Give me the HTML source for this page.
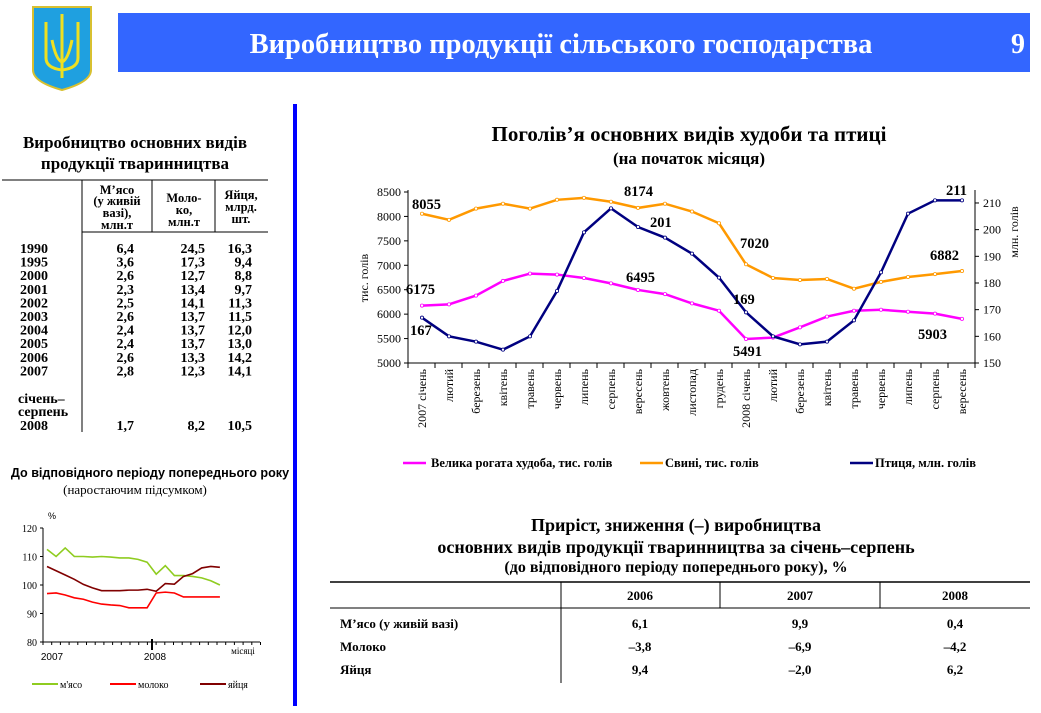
<!DOCTYPE html>
<html><head><meta charset="utf-8"><style>
body{margin:0;width:1041px;height:708px;background:#fff;overflow:hidden;font-family:"Liberation Serif",serif}
svg text{font-family:"Liberation Serif",serif}
</style></head><body>
<svg id="s" width="1041" height="708" viewBox="0 0 1041 708" xmlns="http://www.w3.org/2000/svg">
<path d="M33,7 L91,7 L91,70 Q91,82 62,90 Q33,82 33,70 Z" fill="#1fa0e0" stroke="#d8c030" stroke-width="2"/>
<path d="M62,14 L62,78 M46,22 L46,58 Q46,68 62,70 Q78,68 78,58 L78,22 M52,40 Q56,60 62,62 Q68,60 72,40" stroke="#f0e020" stroke-width="3" fill="none"/>
<rect x="118" y="13" width="912" height="59" fill="#3366ff"/>
<text x="561" y="53" font-size="28.5" font-weight="bold" fill="#fff" text-anchor="middle">Виробництво продукції сільського господарства</text>
<text x="1018" y="53" font-size="28" font-weight="bold" fill="#fff" text-anchor="middle">9</text>
<rect x="293" y="104" width="4" height="602" fill="#0000ff"/>

<text x="135" y="148" font-size="17" font-weight="bold" text-anchor="middle">Виробництво основних видів</text>
<text x="135" y="169" font-size="17" font-weight="bold" text-anchor="middle">продукції тваринництва</text>
<line x1="2" y1="180" x2="268" y2="180" stroke="#000"/>
<line x1="82" y1="232" x2="268" y2="232" stroke="#000"/>
<line x1="82" y1="180" x2="82" y2="432" stroke="#000"/>
<line x1="152" y1="180" x2="152" y2="232" stroke="#000"/>
<line x1="215" y1="180" x2="215" y2="232" stroke="#000"/>
<g font-size="12.5" font-weight="bold" text-anchor="middle">
<text x="117" y="194">М’ясо</text><text x="117" y="205">(у живій</text><text x="117" y="217">вазі),</text><text x="117" y="229">млн.т</text>
<text x="184" y="202">Моло-</text><text x="184" y="214">ко,</text><text x="184" y="226">млн.т</text>
<text x="241" y="199">Яйця,</text><text x="241" y="211">млрд.</text><text x="241" y="223">шт.</text>
</g>
<g font-size="14" font-weight="bold" id="lt"></g>

<text x="150" y="477" font-size="12.6" font-weight="bold" text-anchor="middle" style="font-family:'Liberation Sans',sans-serif">До відповідного періоду попереднього року</text>
<text x="135" y="494" font-size="13" text-anchor="middle">(наростаючим підсумком)</text>
<text x="48" y="519" font-size="9" style="font-family:'Liberation Sans',sans-serif">%</text>
<g font-size="10" text-anchor="end" style="font-family:'Liberation Sans'" id="sy"></g>
<line x1="43" y1="528" x2="43" y2="642" stroke="#000"/>
<line x1="43" y1="642" x2="260" y2="642" stroke="#000"/>
<line x1="152" y1="639" x2="152" y2="650" stroke="#000" stroke-width="2"/>
<text x="52" y="660" font-size="10" text-anchor="middle" style="font-family:'Liberation Sans'">2007</text>
<text x="155" y="660" font-size="10" text-anchor="middle" style="font-family:'Liberation Sans'">2008</text>
<text x="243" y="654" font-size="9" text-anchor="middle">місяці</text>
<g id="sl"></g>
<line x1="32" y1="684" x2="58" y2="684" stroke="#8fcc20" stroke-width="2"/><text x="60" y="688" font-size="10">м'ясо</text>
<line x1="110" y1="684" x2="136" y2="684" stroke="#ff0000" stroke-width="2"/><text x="138" y="688" font-size="10">молоко</text>
<line x1="200" y1="684" x2="226" y2="684" stroke="#800000" stroke-width="2"/><text x="228" y="688" font-size="10">яйця</text>

<text x="689" y="141" font-size="21" font-weight="bold" text-anchor="middle">Поголів’я основних видів худоби та птиці</text>
<text x="689" y="164" font-size="17" font-weight="bold" text-anchor="middle">(на початок місяця)</text>
<text transform="translate(368,278) rotate(-90)" font-size="12" text-anchor="middle">тис. голів</text>
<text transform="translate(1018,232) rotate(-90)" font-size="12" text-anchor="middle">млн. голів</text>
<g id="mc"></g>

<line x1="403" y1="463" x2="426" y2="463" stroke="#ff00ff" stroke-width="2.5"/><text x="431" y="467" font-size="12.5" font-weight="bold">Велика рогата худоба, тис. голів</text>
<line x1="640" y1="463" x2="663" y2="463" stroke="#ff9900" stroke-width="2.5"/><text x="665" y="467" font-size="12.5" font-weight="bold">Свині, тис. голів</text>
<line x1="850" y1="463" x2="873" y2="463" stroke="#000080" stroke-width="2.5"/><text x="875" y="467" font-size="12.5" font-weight="bold">Птиця, млн. голів</text>

<g font-weight="bold" text-anchor="middle">
<text x="676" y="531" font-size="18">Приріст, зниження (–) виробництва</text>
<text x="676" y="553" font-size="18">основних видів продукції тваринництва за січень–серпень</text>
<text x="676" y="572" font-size="16">(до відповідного періоду попереднього року), %</text>
</g>
<line x1="330" y1="582" x2="1030" y2="582" stroke="#000" stroke-width="1.5"/>
<line x1="330" y1="608" x2="1030" y2="608" stroke="#000"/>
<line x1="561" y1="582" x2="561" y2="683" stroke="#000"/>
<line x1="720" y1="582" x2="720" y2="608" stroke="#000"/>
<line x1="880" y1="582" x2="880" y2="608" stroke="#000"/>
<g font-size="13" font-weight="bold">
<text x="640" y="600" text-anchor="middle">2006</text><text x="800" y="600" text-anchor="middle">2007</text><text x="955" y="600" text-anchor="middle">2008</text>
<text x="340" y="628">М’ясо (у живій вазі)</text><text x="640" y="628" text-anchor="middle">6,1</text><text x="800" y="628" text-anchor="middle">9,9</text><text x="955" y="628" text-anchor="middle">0,4</text>
<text x="340" y="651">Молоко</text><text x="640" y="651" text-anchor="middle">–3,8</text><text x="800" y="651" text-anchor="middle">–6,9</text><text x="955" y="651" text-anchor="middle">–4,2</text>
<text x="340" y="674">Яйця</text><text x="640" y="674" text-anchor="middle">9,4</text><text x="800" y="674" text-anchor="middle">–2,0</text><text x="955" y="674" text-anchor="middle">6,2</text>
</g>
</svg>
<script>
var NS="http://www.w3.org/2000/svg";
function el(p,t,a,txt){var e=document.createElementNS(NS,t);for(var k in a)e.setAttribute(k,a[k]);if(txt!=null)e.textContent=txt;document.getElementById(p).appendChild(e);return e;}
var rows=[["1990","6,4","24,5","16,3"],["1995","3,6","17,3","9,4"],["2000","2,6","12,7","8,8"],["2001","2,3","13,4","9,7"],["2002","2,5","14,1","11,3"],["2003","2,6","13,7","11,5"],["2004","2,4","13,7","12,0"],["2005","2,4","13,7","13,0"],["2006","2,6","13,3","14,2"],["2007","2,8","12,3","14,1"]];
rows.forEach(function(r,i){var y=253+i*13.6;el("lt","text",{x:20,y:y},r[0]);el("lt","text",{x:134,y:y,"text-anchor":"end"},r[1]);el("lt","text",{x:205,y:y,"text-anchor":"end"},r[2]);el("lt","text",{x:252,y:y,"text-anchor":"end"},r[3]);});
el("lt","text",{x:18,y:403},"січень–");el("lt","text",{x:18,y:416},"серпень");
[["2008","1,7","8,2","10,5"]].forEach(function(r){var y=430;el("lt","text",{x:20,y:y},r[0]);el("lt","text",{x:134,y:y,"text-anchor":"end"},r[1]);el("lt","text",{x:205,y:y,"text-anchor":"end"},r[2]);el("lt","text",{x:252,y:y,"text-anchor":"end"},r[3]);});
function sy(v){return 642-(v-80)*2.85;}
[80,90,100,110,120].forEach(function(v){el("sy","text",{x:37,y:sy(v)+4},v);el("sl","line",{x1:40,x2:43,y1:sy(v),y2:sy(v),stroke:"#000"});});
for(var i=0;i<=25;i++){var x=43+i*8.7;el("sl","line",{x1:x,x2:x,y1:642,y2:645,stroke:"#000"});}
var meat=[112.5,110,113,110,110,109.8,110,109.8,109.5,109.5,109,108,103.8,106.8,103.3,103.3,103,102.5,101.5,100];
var milk=[97,97.2,96.5,95.5,95,94,93.3,93,92.8,92,92,92,97.2,97.5,97.2,95.8,95.8,95.8,95.8,95.8];
var egg=[106.5,105,103.5,102,100.2,99,98,98,98,98.2,98.2,98.5,97.8,100.5,100.3,103,104,106,106.5,106.2];
function spl(d,c){el("sl","polyline",{points:d.map(function(v,i){return (47+i*9.1)+","+sy(v)}).join(" "),fill:"none",stroke:c,"stroke-width":1.6});}
spl(meat,"#8fcc20");spl(milk,"#ff0000");spl(egg,"#800000");
function ly(v){return 363-(v-5000)*0.04886;}
function ry(v){return 363-(v-150)*2.667;}
function px(i){return 422+i*27;}
for(var v=5000;v<=8500;v+=500){el("mc","text",{x:401,y:ly(v)+4,"font-size":12,"text-anchor":"end"},v);el("mc","line",{x1:404,x2:408,y1:ly(v),y2:ly(v),stroke:"#000"});}
for(var v=150;v<=210;v+=10){el("mc","text",{x:983,y:ry(v)+4,"font-size":12},v);el("mc","line",{x1:975,x2:979,y1:ry(v),y2:ry(v),stroke:"#000"});}
el("mc","line",{x1:408,x2:408,y1:190,y2:363,stroke:"#000"});
el("mc","line",{x1:975,x2:975,y1:190,y2:363,stroke:"#000"});
el("mc","line",{x1:408,x2:975,y1:363,y2:363,stroke:"#000"});
var labs=["2007 січень","лютий","березень","квітень","травень","червень","липень","серпень","вересень","жовтень","листопад","грудень","2008 січень","лютий","березень","квітень","травень","червень","липень","серпень","вересень"];
for(var i=0;i<=21;i++){var x=408+i*27;el("mc","line",{x1:x,x2:x,y1:363,y2:368,stroke:"#000"});}
labs.forEach(function(l,i){el("mc","text",{transform:"translate("+(px(i)+4)+",369) rotate(-90)","text-anchor":"end","font-size":12},l);});
var pig=[8055,7930,8160,8260,8160,8340,8380,8300,8174,8260,8100,7860,7020,6740,6700,6720,6520,6660,6760,6820,6882];
var cat=[6175,6200,6380,6680,6830,6810,6740,6630,6495,6410,6220,6070,5491,5520,5730,5950,6070,6090,6050,6010,5903];
var bird=[167,160,158,155,160,177,199,208,201,197,191,182,169,160,157,158,166,184,206,211,211];
function mline(d,f,c){var pts=d.map(function(v,i){return [px(i),f(v)]});el("mc","polyline",{points:pts.map(function(p){return p.join(",")}).join(" "),fill:"none",stroke:c,"stroke-width":2.5});pts.forEach(function(p){el("mc","circle",{cx:p[0],cy:p[1],r:1.6,fill:"#fff",stroke:c,"stroke-width":0.8});});}
mline(pig,ly,"#ff9900");mline(cat,ly,"#ff00ff");mline(bird,ry,"#000080");
[["8055",412,209],["8174",624,196],["201",650,227],["7020",740,248],["6882",930,260],["6495",626,282],["6175",406,294],["167",410,335],["169",733,304],["5491",733,356],["5903",918,339],["211",946,195]].forEach(function(a){el("mc","text",{x:a[1],y:a[2],"font-size":14.5,"font-weight":"bold"},a[0]);});
</script>
</body></html>
